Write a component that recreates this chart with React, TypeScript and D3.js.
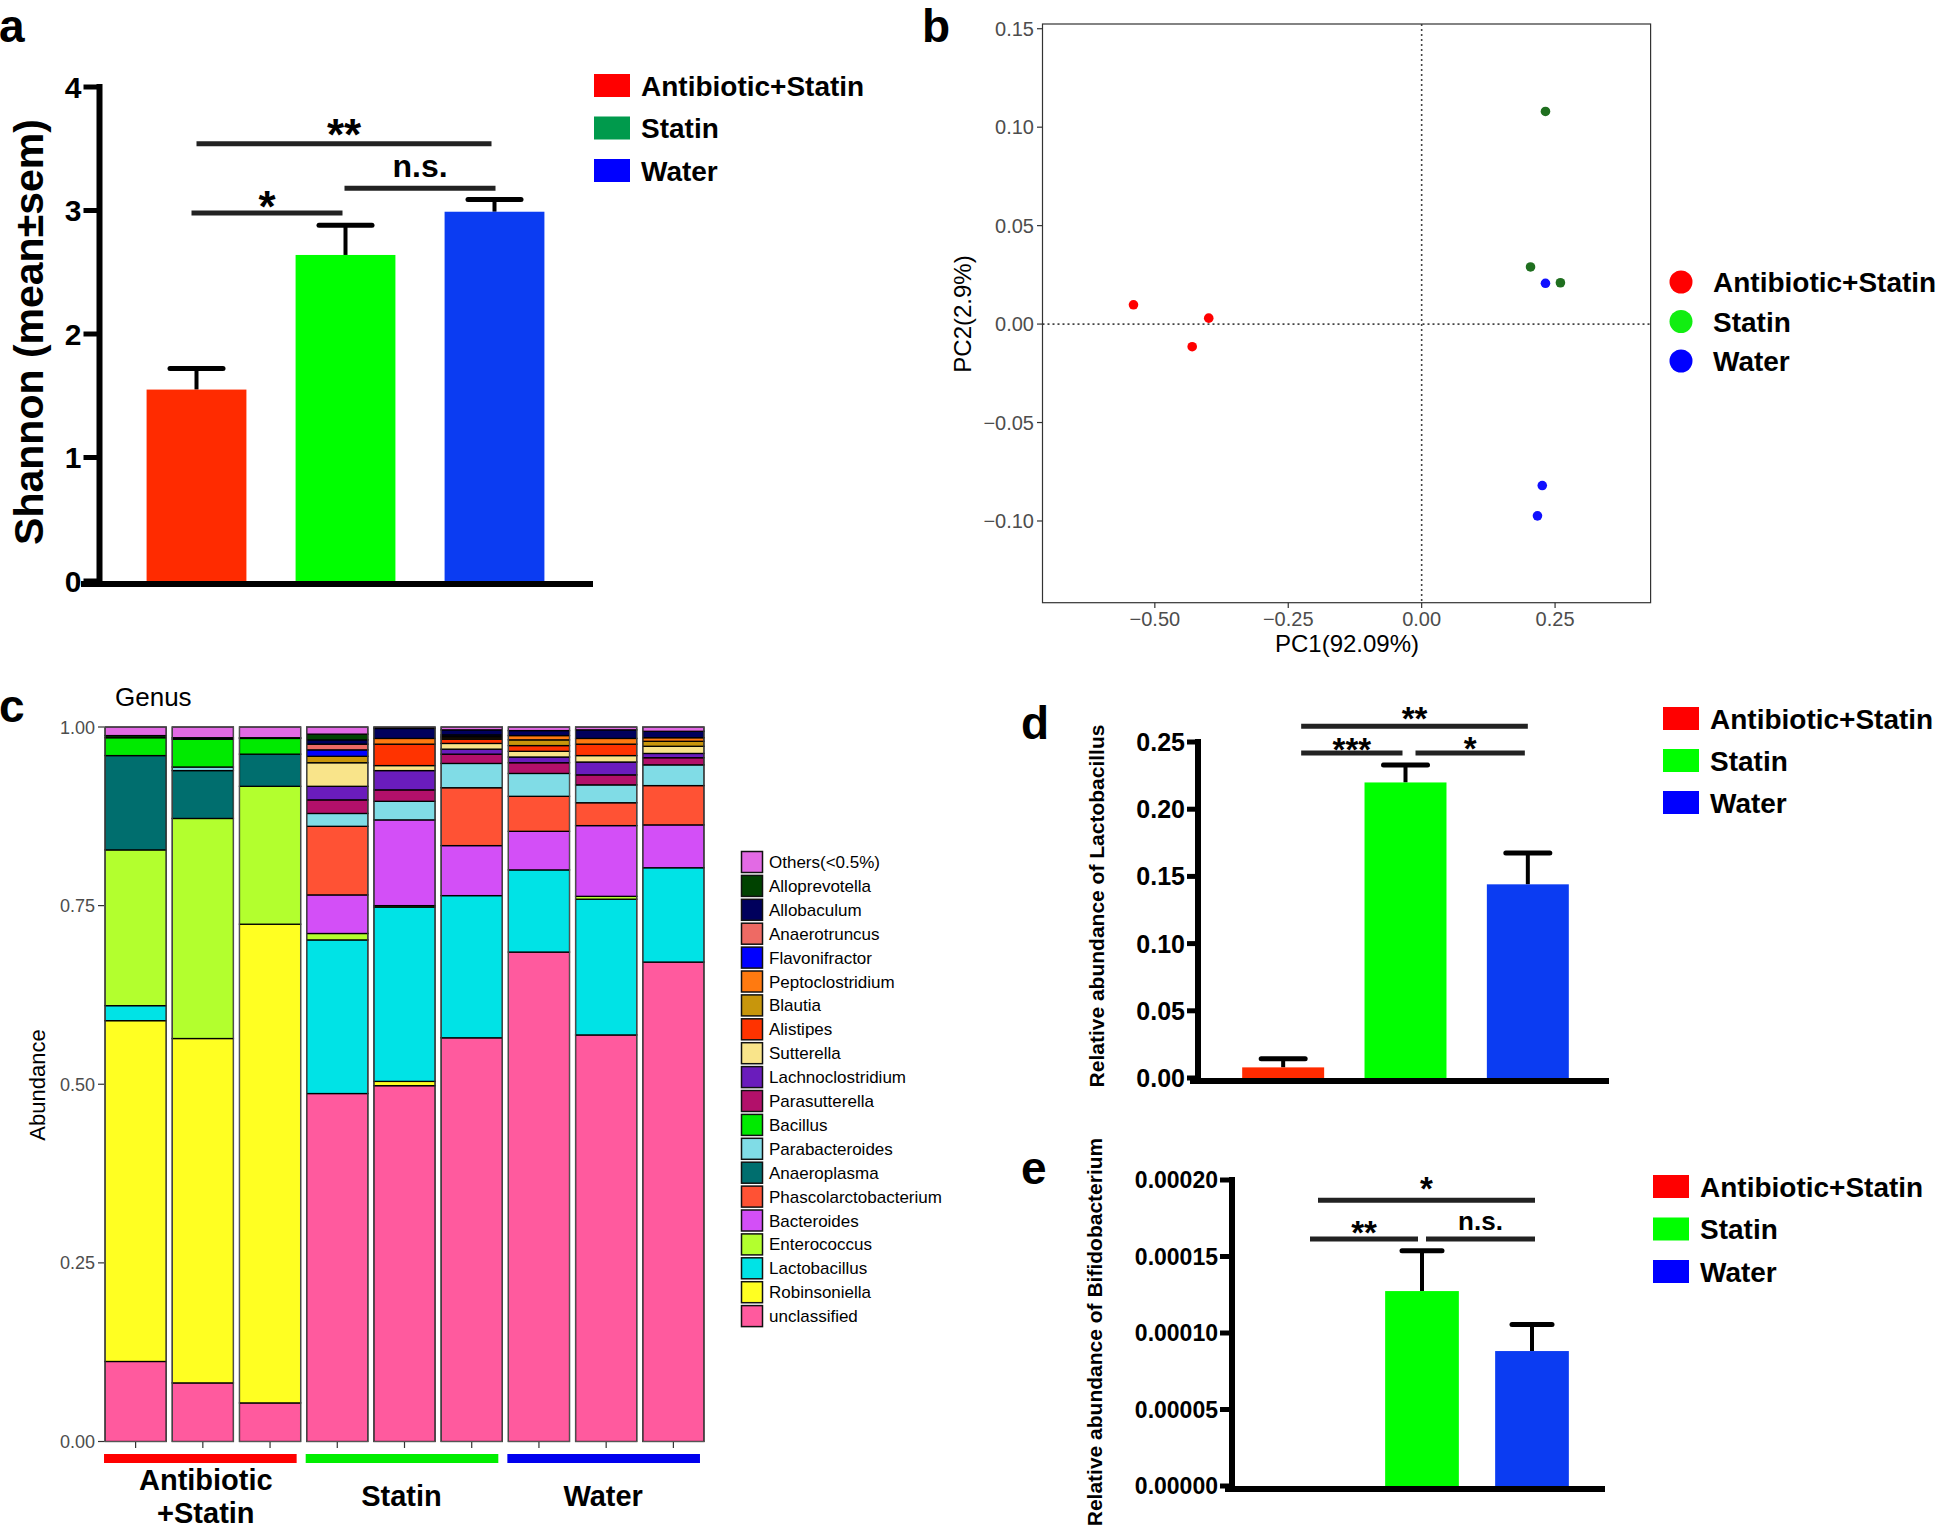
import React from "react";
import * as d3 from "d3";

const FONT = "'Liberation Sans', Arial, Helvetica, sans-serif";

// ---- shared groups ----
const groups = ["Antibiotic+Statin", "Statin", "Water"];

// ---- a: Shannon diversity ----
const shannonMean = [1.55, 2.64, 2.99];
const shannonSem = [0.17, 0.24, 0.1];
const shannonTicks = [0, 1, 2, 3, 4];
const shannonSig = [
  { from: 0, to: 1, level: 2.98, label: "*" },
  { from: 1, to: 2, level: 3.18, label: "n.s." },
  { from: 0, to: 2, level: 3.54, label: "**" },
];

// ---- b: PCoA ----
const pcoaGroup = [0, 0, 0, 1, 1, 1, 2, 2, 2];
const pc1 = [-0.54, -0.399, -0.43, 0.232, 0.204, 0.26, 0.232, 0.226, 0.217];
const pc2 = [0.0098, 0.003, -0.0115, 0.108, 0.029, 0.021, 0.0207, -0.082, -0.0974];
const pc1Ticks = [-0.5, -0.25, 0, 0.25];
const pc2Ticks = [-0.1, -0.05, 0, 0.05, 0.1, 0.15];

// ---- c: genus composition (stack order bottom -> top) ----
const samples = ["AS1", "AS2", "AS3", "S1", "S2", "S3", "W1", "W2", "W3"];
const sampleGroup = [0, 0, 0, 1, 1, 1, 2, 2, 2];
const groupLabels = [["Antibiotic", "+Statin"], ["Statin"], ["Water"]];
const genera = [
  "unclassified", "Robinsoniella", "Lactobacillus", "Enterococcus", "Bacteroides",
  "Phascolarctobacterium", "Anaeroplasma", "Parabacteroides", "Bacillus", "Parasutterella",
  "Lachnoclostridium", "Sutterella", "Alistipes", "Blautia", "Peptoclostridium",
  "Flavonifractor", "Anaerotruncus", "Allobaculum", "Alloprevotella", "Others(<0.5%)",
];
const unclassified = [0.112, 0.082, 0.054, 0.487, 0.498, 0.565, 0.685, 0.569, 0.671];
const robinsoniella = [0.477, 0.482, 0.67, 0, 0.006, 0, 0, 0, 0];
const lactobacillus = [0.021, 0, 0, 0.215, 0.244, 0.199, 0.115, 0.19, 0.132];
const enterococcus = [0.218, 0.308, 0.193, 0.009, 0.002, 0, 0, 0.004, 0];
const bacteroides = [0, 0, 0, 0.054, 0.12, 0.07, 0.054, 0.099, 0.06];
const phascolarctobacterium = [0, 0, 0, 0.096, 0, 0.081, 0.049, 0.032, 0.055];
const anaeroplasma = [0.132, 0.067, 0.045, 0, 0, 0, 0, 0, 0];
const parabacteroides = [0, 0.005, 0, 0.018, 0.026, 0.034, 0.032, 0.025, 0.029];
const bacillus = [0.025, 0.039, 0.022, 0, 0, 0, 0, 0, 0];
const parasutterella = [0, 0, 0, 0.019, 0.016, 0.013, 0.015, 0.014, 0.01];
const lachnoclostridium = [0, 0, 0, 0.019, 0.027, 0.007, 0.008, 0.018, 0.006];
const sutterella = [0, 0, 0, 0.033, 0.007, 0.008, 0.008, 0.009, 0.01];
const alistipes = [0, 0, 0, 0, 0.03, 0.006, 0.008, 0.016, 0];
const blautia = [0, 0, 0, 0.009, 0, 0.002, 0.008, 0, 0.007];
const peptoclostridium = [0, 0, 0, 0, 0.008, 0.002, 0.006, 0.008, 0.005];
const flavonifractor = [0, 0, 0, 0.009, 0, 0.002, 0, 0, 0];
const anaerotruncus = [0, 0, 0, 0.008, 0, 0, 0, 0, 0];
const allobaculum = [0, 0.002, 0.001, 0.006, 0.014, 0.007, 0.007, 0.012, 0.009];
const alloprevotella = [0.003, 0, 0, 0.008, 0, 0, 0, 0, 0];
const others = [0.012, 0.015, 0.015, 0.01, 0.002, 0.004, 0.005, 0.004, 0.006];
const genusValues = [
  unclassified, robinsoniella, lactobacillus, enterococcus, bacteroides,
  phascolarctobacterium, anaeroplasma, parabacteroides, bacillus, parasutterella,
  lachnoclostridium, sutterella, alistipes, blautia, peptoclostridium,
  flavonifractor, anaerotruncus, allobaculum, alloprevotella, others,
];
const genusColors = [
  "#ff5a9e", "#ffff22", "#00e3e6", "#b3ff2e", "#d34ff7",
  "#ff5234", "#006e6e", "#80dce6", "#00ea00", "#b2106a",
  "#6a1cbc", "#f9e48a", "#ff3300", "#c8960c", "#ff7a10",
  "#0000ff", "#ee6a64", "#00005c", "#004200", "#e26ae4",
];
const abundanceTicks = [0, 0.25, 0.5, 0.75, 1];

// ---- d: Lactobacillus ----
const lactoMean = [0.0079, 0.2199, 0.1441];
const lactoSem = [0.0064, 0.0129, 0.0234];
const lactoTicks = [0, 0.05, 0.1, 0.15, 0.2, 0.25];
const lactoSig = [
  { from: 0, to: 1, level: 0.2419, label: "***" },
  { from: 1, to: 2, level: 0.2419, label: "*" },
  { from: 0, to: 2, level: 0.2618, label: "**" },
];

// ---- e: Bifidobacterium ----
const bifidoMean = [0, 0.0001274, 0.0000882];
const bifidoSem = [0, 0.0000264, 0.0000173];
const bifidoTicks = [0, 0.00005, 0.0001, 0.00015, 0.0002];
const bifidoSig = [
  { from: 0, to: 1, level: 0.0001615, label: "**" },
  { from: 1, to: 2, level: 0.0001615, label: "n.s." },
  { from: 0, to: 2, level: 0.0001868, label: "*" },
];

const barColors = ["#ff2b00", "#00ff00", "#0b3cf2"];

function Legend({ x, y0, dy, colors, size = 28, boxW = 36, boxH = 23 }) {
  return (
    <g>
      {groups.map((g, i) => (
        <g key={g}>
          <rect x={x} y={y0 + i * dy} width={boxW} height={boxH} fill={colors[i]} />
          <text x={x + boxW + 11} y={y0 + i * dy + boxH / 2 + size * 0.36}
            fontSize={size} fontWeight="bold" fontFamily={FONT}>{g}</text>
        </g>
      ))}
    </g>
  );
}

function BarPanel(p) {
  const y = d3.scaleLinear().domain([0, p.yMax]).range([p.y0, p.yTop]);
  const x = d3.scaleBand().domain(groups).range(p.band).paddingInner(0.33).paddingOuter(0.165);
  const bw = x.bandwidth();
  const cx = (i) => x(groups[i]) + bw / 2;
  return (
    <g fontFamily={FONT}>
      {p.means.map((m, i) => m > 0 && (
        <g key={i}>
          <line x1={cx(i)} x2={cx(i)} y1={y(m)} y2={y(m + p.sems[i])} stroke="#000" strokeWidth={4} />
          <line x1={cx(i) - p.capW / 2} x2={cx(i) + p.capW / 2} y1={y(m + p.sems[i])} y2={y(m + p.sems[i])}
            stroke="#000" strokeWidth={5} strokeLinecap="round" />
          <rect x={x(groups[i])} y={y(m)} width={bw} height={y(0) - y(m)} fill={barColors[i]} />
        </g>
      ))}
      <line x1={p.axisX} x2={p.axisX} y1={y(p.yMax) - 3} y2={p.y0 + 6} stroke="#000" strokeWidth={6} />
      <line x1={p.xAxis[0]} x2={p.xAxis[1]} y1={p.y0 + 3} y2={p.y0 + 3} stroke="#000" strokeWidth={6} />
      {p.ticks.map((t) => (
        <g key={t}>
          <line x1={p.axisX - p.tickLen} x2={p.axisX} y1={y(t)} y2={y(t)} stroke="#000" strokeWidth={5} />
          <text x={p.axisX - p.tickLen - 2} y={y(t) + p.tickSize * 0.36} textAnchor="end"
            fontSize={p.tickSize} fontWeight="bold">{p.fmt(t)}</text>
        </g>
      ))}
      {p.sig.map((s, k) => {
        const x1 = cx(s.from) + p.nudge[k][0];
        const x2 = cx(s.to) + p.nudge[k][1];
        const ly = y(s.level);
        const star = s.label.startsWith("*");
        const fs = star ? p.starSize : p.nsSize;
        const cy = ly - p.gap[k];
        return (
          <g key={k}>
            <line x1={x1} x2={x2} y1={ly} y2={ly} stroke="#222" strokeWidth={5} />
            <text x={(x1 + x2) / 2} y={cy + (star ? 0.553 : 0.26) * fs} textAnchor="middle"
              fontSize={fs} fontWeight="bold">{s.label}</text>
          </g>
        );
      })}
      <text transform={`translate(${p.labelX},${p.labelY}) rotate(-90)`} textAnchor="middle"
        fontSize={p.labelSize} fontWeight="bold">{p.label}</text>
    </g>
  );
}

function PcoaPanel() {
  const x = d3.scaleLinear().domain([-0.7105, 0.429]).range([1042.5, 1650.6]);
  const y = d3.scaleLinear().domain([-0.1415, 0.1524]).range([602.7, 24]);
  const fmt = d3.format(".2f");
  const ptColors = ["#ff0000", "#1f6f1f", "#1010ff"];
  const legColors = ["#ff0000", "#11ee11", "#0000ff"];
  return (
    <g fontFamily={FONT}>
      <line x1={x(0)} x2={x(0)} y1={y.range()[1]} y2={y.range()[0]} stroke="#444" strokeWidth={1.6} strokeDasharray="2,3" />
      <line x1={x.range()[0]} x2={x.range()[1]} y1={y(0)} y2={y(0)} stroke="#444" strokeWidth={1.6} strokeDasharray="2,3" />
      {pc1.map((v, i) => (
        <circle key={i} cx={x(v)} cy={y(pc2[i])} r={4.8} fill={ptColors[pcoaGroup[i]]} />
      ))}
      <rect x={1042.5} y={24} width={608.1} height={578.7} fill="none" stroke="#333" strokeWidth={1.2} />
      {pc2Ticks.map((t) => (
        <g key={t}>
          <line x1={1037} x2={1042.5} y1={y(t)} y2={y(t)} stroke="#333" strokeWidth={1.2} />
          <text x={1034} y={y(t) + 7} textAnchor="end" fontSize={20} fill="#4d4d4d">{fmt(t)}</text>
        </g>
      ))}
      {pc1Ticks.map((t) => (
        <g key={t}>
          <line x1={x(t)} x2={x(t)} y1={602.7} y2={608} stroke="#333" strokeWidth={1.2} />
          <text x={x(t)} y={626} textAnchor="middle" fontSize={20} fill="#4d4d4d">{fmt(t)}</text>
        </g>
      ))}
      <text x={1347} y={652} textAnchor="middle" fontSize={24}>PC1(92.09%)</text>
      <text transform="translate(971,314) rotate(-90)" textAnchor="middle" fontSize={24}>PC2(2.9%)</text>
      {groups.map((g, i) => (
        <g key={g}>
          <circle cx={1681} cy={282 + i * 39.5} r={11.5} fill={legColors[i]} />
          <text x={1713} y={282 + i * 39.5 + 10} fontSize={28} fontWeight="bold">{g}</text>
        </g>
      ))}
    </g>
  );
}

function StackPanel() {
  const rows = samples.map((s, i) => {
    const r = { sample: s };
    genera.forEach((g, k) => (r[g] = genusValues[k][i]));
    return r;
  });
  const series = d3.stack().keys(genera)(rows);
  const x = d3.scaleBand().domain(samples).range([102, 707]).paddingInner(0.09).paddingOuter(0.045);
  const y = d3.scaleLinear().domain([0, 1]).range([1441.5, 727]);
  const bw = x.bandwidth();
  const fmt = d3.format(".2f");
  const groupColors = ["#ff0000", "#00ee00", "#0000ee"];
  const legendOrder = genera.map((g, k) => k).reverse();
  return (
    <g fontFamily={FONT}>
      <text x={115} y={706} fontSize={26}>Genus</text>
      {series.map((s, k) => (
        <g key={s.key} fill={genusColors[k]}>
          {s.map((d, i) => d[1] - d[0] > 0 && (
            <rect key={i} x={x(samples[i])} y={y(d[1])} width={bw} height={y(d[0]) - y(d[1])}
              stroke="#000" strokeWidth={1.3} />
          ))}
        </g>
      ))}
      {samples.map((s) => (
        <rect key={s} x={x(s)} y={y(1)} width={bw} height={y(0) - y(1)} fill="none" stroke="#555" strokeWidth={1} />
      ))}
      {abundanceTicks.map((t) => (
        <g key={t}>
          <line x1={98} x2={104} y1={y(t)} y2={y(t)} stroke="#333" strokeWidth={1.2} />
          <text x={95} y={y(t) + 6.5} textAnchor="end" fontSize={18} fill="#4d4d4d">{fmt(t)}</text>
        </g>
      ))}
      {samples.map((s) => (
        <line key={s} x1={x(s) + bw / 2} x2={x(s) + bw / 2} y1={1442} y2={1448} stroke="#333" strokeWidth={1.2} />
      ))}
      <text transform="translate(45,1085) rotate(-90)" textAnchor="middle" fontSize={22}>Abundance</text>
      {groups.map((g, gi) => {
        const members = samples.filter((_, i) => sampleGroup[i] === gi);
        const x0 = x(members[0]) - 1;
        const x1 = x(members[members.length - 1]) + bw - 4;
        const mid = d3.mean(members, (m) => x(m) + bw / 2);
        const lines = groupLabels[gi];
        return (
          <g key={g}>
            <rect x={x0} y={1454} width={x1 - x0} height={9} fill={groupColors[gi]} />
            {lines.map((t, j) => (
              <text key={t} x={mid + (lines.length > 1 ? 3 : -3)} y={lines.length > 1 ? 1490 + j * 33 : 1506}
                textAnchor="middle" fontSize={29} fontWeight="bold">{t}</text>
            ))}
          </g>
        );
      })}
      {legendOrder.map((k, j) => (
        <g key={genera[k]}>
          <rect x={741.5} y={862 + j * 23.9 - 10.5} width={21} height={21} fill={genusColors[k]} stroke="#111" strokeWidth={1.5} />
          <text x={769} y={862 + j * 23.9 + 6} fontSize={17}>{genera[k]}</text>
        </g>
      ))}
    </g>
  );
}

export default function App() {
  return (
    <svg width={1944} height={1530} style={{ position: "absolute", left: 0, top: 0, background: "#fff" }}>
      <rect width={1944} height={1530} fill="#fff" />
      <g fontFamily={FONT} fontWeight="bold" fontSize={46}>
        <text x={-1} y={42}>a</text>
        <text x={922} y={42}>b</text>
        <text x={-1} y={722}>c</text>
        <text x={1021} y={739}>d</text>
        <text x={1021} y={1184}>e</text>
      </g>
      <BarPanel
        means={shannonMean} sems={shannonSem} ticks={shannonTicks} fmt={d3.format("d")}
        yMax={4} y0={581} yTop={87} band={[122, 569]} axisX={99.5} xAxis={[81, 593]}
        tickLen={16} tickSize={30} capW={53} sig={shannonSig}
        nudge={[[-5, -3], [-1, 1], [0, -3]]} gap={[15, 20, 18]} starSize={44} nsSize={32}
        label="Shannon (mean±sem)" labelX={43} labelY={332} labelSize={41}
      />
      <Legend x={594} y0={74} dy={42.5} colors={["#ff0000", "#009a4c", "#0000ff"]} />
      <PcoaPanel />
      <StackPanel />
      <BarPanel
        means={lactoMean} sems={lactoSem} ticks={lactoTicks} fmt={d3.format(".2f")}
        yMax={0.25} y0={1078} yTop={742} band={[1222, 1589]} axisX={1198} xAxis={[1190, 1609]}
        tickLen={11} tickSize={25} capW={44} sig={lactoSig}
        nudge={[[18, -3], [10, -3], [18, 0]]} gap={[10, 11, 14]} starSize={33} nsSize={26}
        label="Relative abundance of Lactobacillus" labelX={1104} labelY={906} labelSize={21}
      />
      <Legend x={1663} y0={707} dy={42} colors={["#ff0000", "#00ff00", "#0000ff"]} />
      <BarPanel
        means={bifidoMean} sems={bifidoSem} ticks={bifidoTicks} fmt={d3.format(".5f")}
        yMax={0.0002} y0={1486} yTop={1180} band={[1257, 1587]} axisX={1232} xAxis={[1225, 1605]}
        tickLen={12} tickSize={23} capW={40} sig={bifidoSig}
        nudge={[[-2, -4], [4, 3], [6, 3]]} gap={[13, 16, 18]} starSize={33} nsSize={26}
        label="Relative abundance of Bifidobacterium" labelX={1102} labelY={1332} labelSize={21}
      />
      <Legend x={1653} y0={1175} dy={42.5} colors={["#ff0000", "#00ff00", "#0000ff"]} />
    </svg>
  );
}
